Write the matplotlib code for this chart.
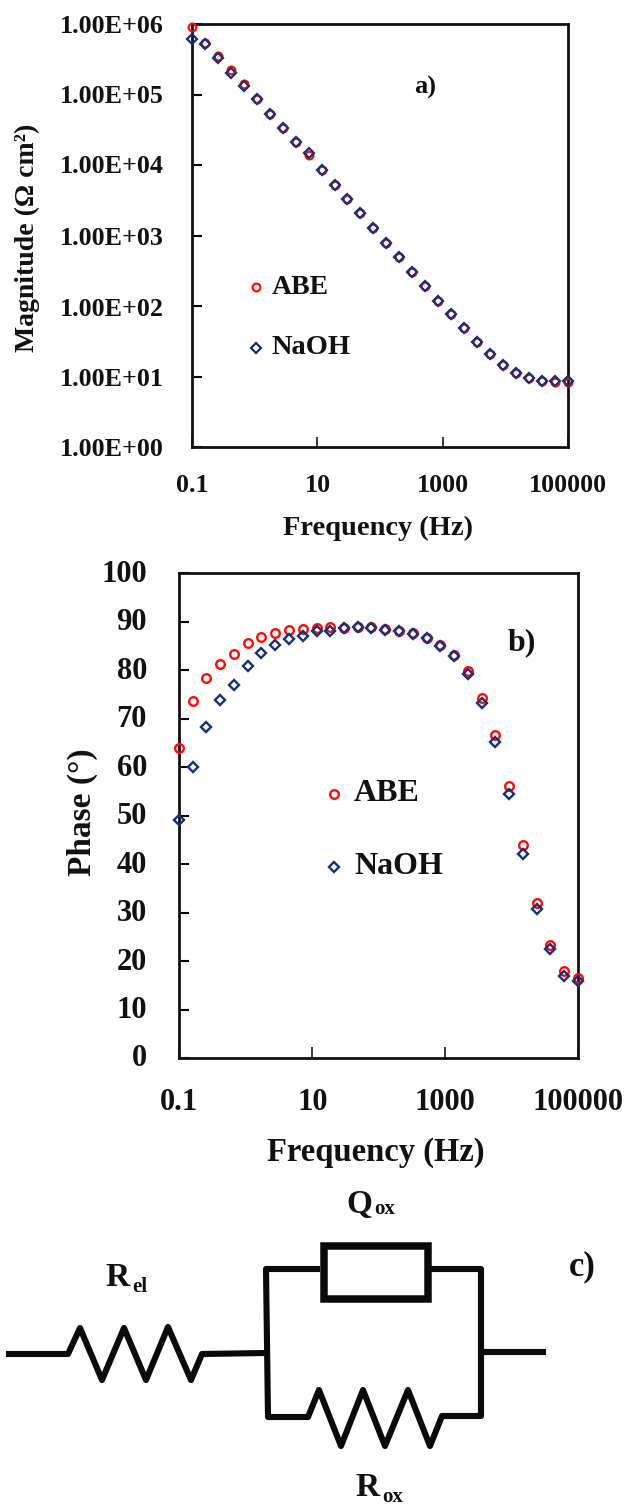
import matplotlib
matplotlib.use("Agg")
import matplotlib.pyplot as plt
from matplotlib.patches import Rectangle

W, H = 624, 1506
plt.rcParams['font.family'] = ['Liberation Serif', 'DejaVu Serif']
plt.rcParams['font.weight'] = 'bold'

freq = [0.1, 0.161, 0.259, 0.417, 0.671, 1.08, 1.74, 2.8, 4.5, 7.25, 11.7, 18.8, 30.2, 48.7, 78.4,
        126, 203, 327, 527, 848, 1365, 2198, 3539, 5698, 9173, 14770, 23780, 38290, 61650, 100000]
mag_abe = [8.97e5, 5.3e5, 3.48e5, 2.2e5, 1.39e5, 8.63e4, 5.35e4, 3.35e4, 2.12e4, 1.4e4,
           8.49e3, 5.26e3, 3.26e3, 2.06e3, 1.28e3, 791, 490, 307, 194, 119,
           77, 48.8, 31.2, 20.6, 14.4, 11.1, 9.4, 8.5, 8.4, 8.3]
mag_naoh = [6.13e5, 5.2e5, 3.26e5, 2.02e5, 1.32e5, 8.63e4, 5.35e4, 3.35e4, 2.12e4, 1.46e4,
            8.49e3, 5.26e3, 3.26e3, 2.06e3, 1.28e3, 791, 490, 307, 194, 119,
            77, 48.8, 31.2, 20.6, 14.4, 11.1, 9.4, 8.63, 8.53, 8.5]
ph_abe = [63.9, 73.6, 78.3, 81.3, 83.3, 85.5, 86.9, 87.6, 88.2, 88.4, 88.6, 88.8, 88.7, 88.8, 88.8,
          88.4, 88.0, 87.6, 86.7, 85.2, 83.1, 79.7, 74.3, 66.6, 56.1, 44.0, 32.0, 23.4, 18.0, 16.4]
ph_naoh = [49.1, 59.9, 68.3, 73.9, 76.9, 80.9, 83.6, 85.1, 86.4, 87.1, 88.0, 88.1, 88.7, 88.8, 88.6,
           88.3, 88.0, 87.5, 86.6, 84.9, 82.8, 79.1, 73.2, 65.1, 54.4, 42.0, 30.7, 22.4, 17.0, 15.9]
xtick_vals = [0.1, 10, 1000, 100000]
xtick_text = ['0.1', '10', '1000', '100000']
mag_ticks = [1, 10, 100, 1000, 10000, 100000, 1000000]
mag_text = ['1.00E+00', '1.00E+01', '1.00E+02', '1.00E+03', '1.00E+04', '1.00E+05', '1.00E+06']
ph_ticks = [0, 10, 20, 30, 40, 50, 60, 70, 80, 90, 100]

RED, NAVY, INK = '#ff0a0a', '#17306f', '#111111'
fig = plt.figure(figsize=(W / 100, H / 100), dpi=100)

def make_axes(l, r, t, b):
    return fig.add_axes([l / W, 1 - b / H, (r - l) / W, (b - t) / H])

def style(ax, ticklen_y, ticklen_x):
    ax.set_xscale('log')
    ax.set_xlim(0.1, 100000)
    ax.minorticks_off()
    for s in ax.spines.values():
        s.set_linewidth(2.0)
        s.set_color(INK)
    ax.tick_params(axis='y', direction='in', length=ticklen_y, width=1.5, pad=0, labelleft=False)
    ax.tick_params(axis='x', direction='in', length=ticklen_x, width=1.1, labelbottom=False)
    ax.set_xticks(xtick_vals)

def markers(ax, y1, y2, ms1, ms2, mew):
    ax.plot(freq, y1, ls='none', marker='o', mfc='none', mec=RED, ms=ms1, mew=mew, clip_on=False, zorder=5)
    ax.plot(freq, y2, ls='none', marker='D', mfc='none', mec=NAVY, ms=ms2, mew=mew, clip_on=False, zorder=6)

# panel a
axa = make_axes(192, 568, 24, 447)
style(axa, 7, 7)
axa.set_yscale('log')
axa.set_ylim(1, 1e6)
axa.minorticks_off()
axa.set_yticks(mag_ticks)
markers(axa, mag_abe, mag_naoh, 5.6, 5.0, 1.6)

# panel b
axb = make_axes(179, 578, 573, 1058)
style(axb, 7, 8)
axb.set_ylim(0, 100)
axb.set_yticks(ph_ticks)
markers(axb, ph_abe, ph_naoh, 6.2, 5.6, 1.7)

# overlay in image pixels: labels and the circuit
ov = fig.add_axes([0, 0, 1, 1], zorder=10)
ov.set_xlim(0, W)
ov.set_ylim(H, 0)
ov.axis('off')
ov.patch.set_alpha(0)

def T(x, y, s, size, ha='center', va='center', **kw):
    ov.text(x, y, s, fontsize=size, ha=ha, va=va, color=INK, **kw)

# panel a text
for y, s in zip([449, 379, 309, 238, 166, 96, 26], mag_text):
    T(164, y, s, 18.7, ha='right')
for x, s in zip([192, 318, 443, 568], xtick_text):
    T(x, 485, s, 18.7)
T(378, 528, 'Frequency (Hz)', 20.5)
T(27, 238, 'Magnitude (Ω cm²)', 20, rotation=90)
T(425, 87, 'a)', 19)
ov.plot([256], [287], ls='none', marker='o', mfc='none', mec=RED, ms=5.6, mew=1.6)
ov.plot([256], [348], ls='none', marker='D', mfc='none', mec=NAVY, ms=5.0, mew=1.6)
T(272, 287, 'ABE', 20, ha='left')
T(272, 347, 'NaOH', 20.5, ha='left')

# panel b text
for v, y in zip(ph_ticks, [1059, 1010, 962, 913, 865, 816, 768, 719, 671, 622, 574]):
    T(147, y, str(v), 22, ha='right')
for x, s in zip([179, 313, 445, 578], xtick_text):
    T(x, 1102, s, 22)
T(376, 1152, 'Frequency (Hz)', 23.5)
T(82, 812, 'Phase (°)', 24, rotation=90)
T(522, 643, 'b)', 23)
ov.plot([334], [794], ls='none', marker='o', mfc='none', mec=RED, ms=6.2, mew=1.7)
ov.plot([334], [867], ls='none', marker='D', mfc='none', mec=NAVY, ms=5.6, mew=1.7)
T(354, 793, 'ABE', 23, ha='left')
T(354, 866, 'NaOH', 23, ha='left')

# panel c: circuit schematic
wire_rel_x = [6, 68, 80, 102, 124, 146, 168, 191, 202, 266]
wire_rel_y = [1354, 1354, 1328, 1380, 1328, 1380, 1327, 1380, 1354, 1353]
wire_par_x = [320, 266, 268, 308, 319, 341, 363, 385, 408, 430, 442, 481, 481, 430]
wire_par_y = [1269, 1269, 1417, 1417, 1390, 1446, 1390, 1446, 1390, 1446, 1416, 1416, 1269, 1269]
wire_out_x = [482, 546]
wire_out_y = [1352, 1352]
for xs, ys in [(wire_rel_x, wire_rel_y), (wire_par_x, wire_par_y), (wire_out_x, wire_out_y)]:
    ov.plot(xs, ys, color='#0a0a0a', lw=4.4, solid_joinstyle='round', solid_capstyle='butt')
ov.add_patch(Rectangle((323.5, 1246), 104, 53, fc='white', ec='#0a0a0a', lw=5.4, zorder=3))

T(118, 1277, 'R', 24)
T(140, 1287, 'el', 15)
T(359, 1205, 'Q', 24)
T(385, 1209, 'ox', 15)
T(368, 1488, 'R', 24)
T(393, 1497, 'ox', 15)
T(582, 1267, 'c)', 25)

fig.savefig('out.png', dpi=100, facecolor='white')
